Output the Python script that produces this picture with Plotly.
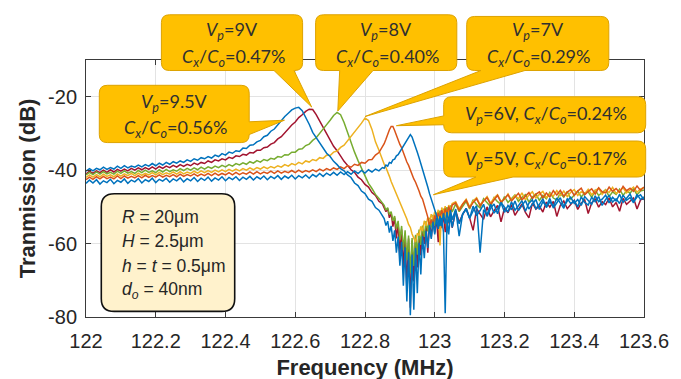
import plotly.graph_objects as go

# ---------------- data ----------------
FREQ_A = [122.00, 122.01, 122.02, 122.03, 122.04, 122.05, 122.06, 122.07, 122.08, 122.09,
          122.10, 122.11, 122.12, 122.13, 122.14, 122.15, 122.16, 122.17, 122.18, 122.19,
          122.20, 122.21, 122.22, 122.23, 122.24, 122.25, 122.26, 122.27, 122.28, 122.29,
          122.30, 122.31, 122.32, 122.33, 122.34, 122.35, 122.36, 122.37, 122.38, 122.39,
          122.40, 122.41, 122.42, 122.43, 122.44, 122.45, 122.46, 122.47, 122.48, 122.49,
          122.50, 122.51, 122.52, 122.53, 122.54, 122.55, 122.56, 122.57, 122.58, 122.59,
          122.60, 122.61, 122.62, 122.63, 122.64, 122.65, 122.66, 122.67, 122.68, 122.69,
          122.70, 122.71, 122.72, 122.73, 122.74, 122.75, 122.76, 122.77, 122.78, 122.79,
          122.80, 122.81, 122.82, 122.83, 122.84, 122.85]
FREQ_B = [122.855, 122.860, 122.865, 122.870, 122.875, 122.880, 122.885, 122.890, 122.895, 122.900,
          122.905, 122.910, 122.915, 122.920, 122.925, 122.930, 122.935, 122.940, 122.945, 122.950,
          122.955, 122.960, 122.965, 122.970, 122.975, 122.980, 122.985, 122.990, 122.995, 123.000,
          123.005, 123.010, 123.015, 123.020, 123.025, 123.030, 123.035, 123.040, 123.045, 123.050]
FREQ_C = [123.06, 123.07, 123.08, 123.09, 123.10, 123.11, 123.12, 123.13, 123.14, 123.15,
          123.16, 123.17, 123.18, 123.19, 123.20, 123.21, 123.22, 123.23, 123.24, 123.25,
          123.26, 123.27, 123.28, 123.29, 123.30, 123.31, 123.32, 123.33, 123.34, 123.35,
          123.36, 123.37, 123.38, 123.39, 123.40, 123.41, 123.42, 123.43, 123.44, 123.45,
          123.46, 123.47, 123.48, 123.49, 123.50, 123.51, 123.52, 123.53, 123.54, 123.55,
          123.56, 123.57, 123.58, 123.59, 123.60]

# Vp = 9.5 V (blue)
VP95_A = [-40.3,-39.6,-40.2,-39.5,-39.9,-39.2,-39.8,-39.3,-39.7,-38.9,
          -39.5,-38.8,-39.4,-38.9,-39.2,-38.6,-39.1,-38.5,-38.9,-38.2,
          -38.8,-38.1,-38.6,-37.9,-38.4,-37.7,-38.1,-37.5,-37.9,-37.2,
          -37.6,-36.9,-37.3,-36.6,-36.9,-36.3,-36.7,-35.9,-36.3,-35.5,
          -35.9,-35.1,-35.4,-34.7,-34.9,-34.0,-34.1,-33.2,-33.1,-32.3,
          -31.9,-30.9,-30.5,-29.4,-28.8,-27.6,-26.6,-25.4,-24.5,-23.6,
          -23.1,-22.9,-23.8,-25.6,-27.5,-29.7,-31.1,-32.8,-34.0,-35.4,
          -36.3,-37.6,-38.5,-39.6,-40.2,-41.3,-42.0,-43.5,-44.2,-45.7,
          -46.4,-47.9,-48.5,-50.2,-50.9,-52.6]
VP95_B = [-53.2,-55.1,-53.9,-57.0,-55.2,-59.3,-56.4,-62.5,-58.1,-66.0,
          -59.5,-71.5,-61.0,-75.8,-62.4,-79.5,-63.0,-78.0,-61.2,-73.5,
          -59.8,-68.4,-58.0,-64.0,-56.5,-61.2,-55.0,-58.7,-54.0,-57.5,
          -53.1,-56.0,-52.5,-55.3,-51.8,-54.6,-51.4,-54.2,-50.9,-53.5]
VP95_C = [-50.6,-58.0,-51.9,-50.7,-53.1,-49.8,-52.4,-51.0,-49.3,-52.6,
          -50.4,-49.2,-51.9,-48.8,-50.1,-51.4,-48.6,-50.9,-49.7,-48.3,
          -51.2,-49.0,-48.1,-50.5,-49.3,-47.8,-50.2,-48.6,-49.9,-47.6,
          -48.9,-50.4,-47.7,-49.1,-48.3,-50.0,-47.3,-48.8,-49.5,-47.4,
          -48.6,-47.2,-49.6,-48.0,-46.9,-48.7,-47.8,-49.1,-46.8,-48.2,
          -47.5,-48.9,-46.6,-48.0,-47.3]

# Vp = 9 V (red)
VP9_A = [-41.0,-40.3,-40.9,-40.2,-40.7,-40.0,-40.6,-39.9,-40.5,-39.8,
         -40.3,-39.7,-40.2,-39.5,-40.0,-39.4,-39.9,-39.3,-39.8,-39.1,
         -39.7,-39.0,-39.5,-38.9,-39.3,-38.7,-39.2,-38.5,-39.0,-38.4,
         -38.8,-38.1,-38.5,-37.9,-38.2,-37.5,-37.9,-37.2,-37.5,-36.9,
         -37.2,-36.5,-36.8,-36.1,-36.3,-35.7,-35.9,-35.2,-35.3,-34.6,
         -34.6,-33.9,-33.7,-32.9,-32.5,-31.5,-30.9,-29.8,-28.9,-27.7,
         -26.9,-25.7,-24.9,-24.0,-23.4,-23.5,-24.9,-26.6,-28.4,-30.3,
         -31.8,-33.5,-34.7,-36.2,-37.6,-38.7,-39.9,-40.6,-41.9,-42.6,
         -43.9,-44.6,-46.1,-46.9,-48.5,-49.2]
VP9_B = [-50.1,-51.3,-50.5,-53.0,-51.6,-55.4,-53.0,-58.6,-54.7,-62.8,
         -56.2,-67.0,-57.5,-72.4,-58.6,-77.5,-59.2,-70.3,-58.0,-66.5,
         -56.8,-63.2,-55.9,-60.1,-55.0,-62.5,-54.2,-58.3,-53.6,-57.0,
         -53.0,-59.6,-52.4,-55.8,-52.0,-56.9,-51.6,-54.5,-51.2,-55.7]
VP9_C = [-51.0,-54.2,-52.1,-50.4,-53.0,-56.4,-50.5,-51.9,-53.4,-50.0,
         -52.7,-51.1,-49.6,-54.1,-50.3,-51.6,-49.4,-52.3,-50.8,-49.2,
         -51.5,-53.0,-49.0,-50.6,-49.8,-51.4,-48.7,-50.1,-48.5,-52.6,
         -49.6,-48.4,-50.5,-49.2,-48.2,-50.7,-49.0,-48.1,-51.8,-48.9,
         -47.9,-50.1,-48.6,-49.4,-47.6,-50.0,-48.8,-51.2,-47.7,-49.3,
         -48.4,-47.6,-50.6,-48.1,-47.8]

# Vp = 8 V (green)
VP8_A = [-41.3,-40.6,-41.2,-40.5,-41.1,-40.4,-41.0,-40.6,-41.1,-40.3,
         -40.9,-40.2,-40.8,-40.4,-40.9,-40.1,-40.7,-40.0,-40.6,-40.2,
         -40.7,-39.9,-40.5,-39.8,-40.4,-39.9,-40.3,-39.6,-40.1,-39.5,
         -40.0,-39.4,-39.9,-39.2,-39.7,-39.1,-39.5,-38.9,-39.3,-38.7,
         -39.1,-38.5,-38.9,-38.2,-38.6,-38.0,-38.4,-37.7,-38.1,-37.4,
         -37.8,-37.1,-37.4,-36.8,-37.0,-36.3,-36.5,-35.8,-35.9,-35.1,
         -35.1,-34.3,-34.2,-33.3,-32.9,-31.9,-31.2,-29.9,-28.9,-27.6,
         -26.4,-25.1,-24.3,-24.9,-27.0,-29.8,-32.4,-35.1,-37.4,-39.6,
         -41.5,-43.6,-45.0,-46.6,-47.7,-49.1]
VP8_B = [-49.6,-50.9,-50.2,-52.1,-51.3,-53.8,-52.5,-56.0,-53.8,-58.9,
         -55.2,-61.7,-56.4,-64.5,-57.8,-68.0,-58.5,-66.1,-57.6,-63.0,
         -56.2,-60.4,-55.1,-58.2,-53.9,-56.7,-53.0,-55.6,-52.2,-54.9,
         -51.6,-54.0,-51.0,-53.2,-50.5,-52.6,-50.1,-52.0,-49.6,-51.4]
VP8_C = [-49.2,-51.3,-49.8,-48.5,-50.6,-48.1,-49.4,-50.3,-47.8,-48.9,
         -49.9,-47.5,-48.6,-49.3,-47.2,-48.8,-47.9,-46.8,-48.5,-47.4,
         -46.7,-48.7,-47.3,-46.5,-48.2,-46.9,-47.8,-46.1,-47.6,-48.1,
         -46.3,-47.4,-45.8,-47.9,-46.8,-45.7,-47.3,-46.2,-45.9,-47.4,
         -45.5,-46.9,-46.1,-45.3,-47.2,-45.9,-46.6,-45.2,-46.9,-45.6,
         -46.3,-45.1,-46.7,-45.7,-45.4]

# Vp = 7 V (yellow)
VP7_A = [-42.0,-41.3,-41.9,-41.2,-41.8,-41.1,-41.7,-41.3,-41.8,-41.0,
         -41.6,-41.0,-41.5,-40.9,-41.5,-40.8,-41.4,-40.9,-41.3,-40.7,
         -41.3,-40.6,-41.2,-40.7,-41.1,-40.5,-41.1,-40.4,-41.0,-40.5,
         -40.9,-40.3,-40.8,-40.2,-40.7,-40.1,-40.6,-40.0,-40.5,-39.9,
         -40.4,-39.8,-40.3,-39.7,-40.2,-39.6,-40.0,-39.4,-39.9,-39.3,
         -39.7,-39.1,-39.6,-39.0,-39.4,-38.8,-39.2,-38.5,-38.9,-38.2,
         -38.6,-37.9,-38.3,-37.5,-37.8,-37.1,-37.4,-36.6,-36.8,-35.9,
         -36.0,-35.1,-34.8,-33.8,-33.2,-32.0,-31.1,-29.6,-28.6,-27.2,
         -25.8,-26.5,-28.9,-32.3,-34.6,-37.3]
VP7_B = [-38.4,-39.3,-40.8,-41.7,-43.1,-44.2,-45.5,-46.4,-47.8,-48.6,
         -50.1,-50.9,-52.4,-53.3,-54.8,-55.6,-57.4,-58.3,-59.6,-57.2,
         -57.8,-55.3,-56.6,-53.8,-55.2,-52.9,-54.1,-52.0,-53.4,-51.3,
         -52.8,-50.8,-60.5,-50.2,-51.7,-49.8,-57.2,-49.5,-50.9,-49.1]
VP7_C = [-48.6,-50.5,-49.1,-47.9,-50.0,-48.4,-47.5,-49.4,-48.3,-47.2,
         -49.0,-47.6,-46.7,-48.5,-47.9,-46.5,-48.2,-46.9,-47.8,-46.2,
         -48.1,-46.8,-45.9,-47.6,-46.6,-45.8,-47.5,-46.4,-47.1,-45.6,
         -46.9,-45.7,-47.2,-46.0,-45.3,-46.9,-45.9,-46.5,-45.2,-46.7,
         -45.6,-44.9,-46.6,-45.4,-46.1,-44.7,-46.4,-45.5,-44.8,-46.2,
         -45.3,-44.6,-46.0,-45.1,-44.8]

# Vp = 6 V (orange)
VP6_A = [-42.6,-41.9,-42.5,-41.8,-42.4,-41.7,-42.3,-41.9,-42.4,-41.6,
         -42.3,-41.6,-42.2,-41.7,-42.1,-41.5,-42.1,-41.4,-42.0,-41.5,
         -41.9,-41.3,-41.9,-41.4,-41.8,-41.2,-41.8,-41.1,-41.7,-41.2,
         -41.6,-41.0,-41.6,-41.1,-41.5,-40.9,-41.5,-40.8,-41.4,-40.9,
         -41.3,-40.7,-41.3,-40.6,-41.2,-40.7,-41.1,-40.5,-41.1,-40.4,
         -41.0,-40.5,-40.9,-40.3,-40.9,-40.2,-40.8,-40.3,-40.7,-40.1,
         -40.7,-40.0,-40.6,-40.1,-40.5,-39.9,-40.4,-39.7,-40.2,-39.6,
         -40.0,-39.4,-39.8,-39.1,-39.6,-38.8,-39.2,-38.4,-38.7,-37.9,
         -38.1,-37.2,-37.1,-35.9,-35.2,-33.8]
VP6_B = [-32.8,-31.6,-30.2,-29.0,-28.1,-28.1,-29.2,-30.6,-31.7,-33.0,
         -33.9,-35.4,-36.3,-37.8,-38.7,-40.1,-40.9,-42.4,-43.3,-44.8,
         -45.7,-47.1,-47.9,-49.5,-50.9,-52.8,-55.2,-53.4,-55.0,-52.3,
         -53.9,-51.6,-53.0,-50.9,-52.6,-50.4,-52.1,-49.9,-51.5,-49.5]
VP6_C = [-48.9,-51.0,-49.3,-48.2,-50.3,-48.8,-47.8,-49.7,-48.4,-47.5,
         -49.3,-48.0,-46.9,-48.8,-47.6,-46.7,-48.4,-47.2,-46.3,-48.1,
         -47.0,-46.1,-47.8,-46.6,-45.9,-47.6,-46.2,-47.3,-45.6,-46.8,
         -45.5,-47.1,-46.0,-45.3,-46.9,-45.7,-44.9,-46.7,-45.8,-45.1,
         -46.5,-44.8,-45.9,-46.2,-44.6,-45.8,-45.0,-46.1,-44.4,-45.6,
         -44.9,-45.8,-44.3,-45.5,-44.6]

# Vp = 5 V (blue)
VP5_A = [-43.6,-42.7,-43.5,-42.6,-43.8,-42.9,-43.4,-42.5,-43.7,-42.8,
         -43.3,-42.4,-43.6,-42.7,-43.2,-42.3,-43.5,-42.6,-43.1,-42.2,
         -43.4,-42.5,-43.0,-42.2,-43.3,-42.4,-42.9,-42.1,-43.2,-42.3,
         -42.9,-42.0,-43.1,-42.2,-42.8,-41.9,-43.0,-42.1,-42.7,-41.8,
         -42.9,-42.0,-42.6,-41.8,-42.8,-41.9,-42.5,-41.7,-42.7,-41.8,
         -42.4,-41.6,-42.6,-41.7,-42.3,-41.5,-42.5,-41.6,-42.2,-41.4,
         -42.4,-41.5,-42.1,-41.3,-42.2,-41.2,-41.8,-40.9,-41.7,-40.8,
         -41.4,-40.6,-41.4,-40.5,-41.2,-40.4,-41.1,-40.2,-40.9,-40.1,
         -40.8,-39.9,-40.5,-39.7,-40.2,-39.3]
VP5_B = [-39.5,-38.6,-38.9,-37.9,-38.1,-37.2,-37.0,-36.1,-35.8,-35.0,
         -34.2,-33.3,-32.4,-31.5,-30.7,-30.3,-31.0,-32.2,-33.6,-35.1,
         -36.6,-38.1,-39.8,-41.3,-43.0,-44.6,-46.4,-48.0,-49.7,-51.1,
         -52.6,-53.8,-55.2,-53.0,-56.9,-79.0,-53.4,-57.5,-52.1,-55.6]
VP5_C = [-51.2,-54.6,-52.0,-50.4,-53.1,-51.1,-49.7,-62.5,-50.8,-52.2,
         -49.3,-51.7,-50.5,-48.9,-51.5,-49.6,-50.8,-48.4,-51.0,-49.5,
         -48.3,-50.6,-49.2,-48.0,-50.7,-48.6,-49.8,-47.7,-50.3,-48.9,
         -47.5,-49.9,-48.4,-47.4,-49.1,-48.0,-49.6,-47.2,-48.3,-49.3,
         -47.0,-48.6,-47.9,-46.8,-48.9,-47.4,-48.4,-46.6,-48.8,-47.5,
         -46.5,-48.6,-47.3,-46.7,-48.1]

X_TICKS = [122.0, 122.2, 122.4, 122.6, 122.8, 123.0, 123.2, 123.4, 123.6]
X_TICK_TEXT = ["122", "122.2", "122.4", "122.6", "122.8", "123", "123.2", "123.4", "123.6"]
Y_TICKS = [-80, -60, -40, -20]
Y_TICK_TEXT = ["-80", "-60", "-40", "-20"]

FREQ = FREQ_A + FREQ_B + FREQ_C
SERIES = [
    ("9 V", VP9_A + VP9_B + VP9_C, "#A2142F"),
    ("8 V", VP8_A + VP8_B + VP8_C, "#77AC30"),
    ("7 V", VP7_A + VP7_B + VP7_C, "#EDB120"),
    ("6 V", VP6_A + VP6_B + VP6_C, "#D95319"),
    ("9.5 V", VP95_A + VP95_B + VP95_C, "#0072BD"),
    ("5 V", VP5_A + VP5_B + VP5_C, "#0072BD"),
]
for name, vals, _ in SERIES:
    assert len(vals) == len(FREQ), (name, len(vals), len(FREQ))

# ---------------- layout geometry ----------------
W, H = 681, 379
ML, MR, MT, MB = 78, 45, 52, 65
PW, PH = W - ML - MR, H - MT - MB
XR = [122.0, 123.6]
YR = [-80, -10]


def P(px, py):
    return f"{(px - ML) / PW:.5f},{(MT + PH - py) / PH:.5f}"


def data_px(f, db):
    return (ML + (f - XR[0]) / (XR[1] - XR[0]) * PW,
            MT + PH - (db - YR[0]) / (YR[1] - YR[0]) * PH)


def box_path(x0, y0, x1, y1, r, side=None, wa=None, wb=None, tip=None):
    s = [f"M{P(x0 + r, y0)}", f"L{P(x1 - r, y0)}", f"Q{P(x1, y0)} {P(x1, y0 + r)}"]
    if side == "right":
        s += [f"L{P(x1, wa)}", f"L{P(*tip)}", f"L{P(x1, wb)}"]
    s += [f"L{P(x1, y1 - r)}", f"Q{P(x1, y1)} {P(x1 - r, y1)}"]
    if side == "bottom":
        s += [f"L{P(wb, y1)}", f"L{P(*tip)}", f"L{P(wa, y1)}"]
    s += [f"L{P(x0 + r, y1)}", f"Q{P(x0, y1)} {P(x0, y1 - r)}"]
    if side == "left":
        s += [f"L{P(x0, wb)}", f"L{P(*tip)}", f"L{P(x0, wa)}"]
    s += [f"L{P(x0, y0 + r)}", f"Q{P(x0, y0)} {P(x0 + r, y0)}", "Z"]
    return " ".join(s)


fig = go.Figure()
for name, vals, color in SERIES:
    fig.add_trace(go.Scatter(x=FREQ, y=vals, mode="lines", name=name,
                             line=dict(color=color, width=1.5)))

CALLOUTS = [
    # box px (x0, y0, x1, y1), side, base a, base b, tip (data)
    ((91.3, 77.8, 241.2, 136.2), "right", 115, 128, (122.569, -26.4)),
    ((153.4, 5.9, 294.6, 62.7), "bottom", 266, 286, (122.647, -22.8)),
    ((307.6, 5.9, 448.8, 62.7), "bottom", 331.7, 365, (122.722, -23.9)),
    ((458.7, 7.6, 600.8, 62.7), "bottom", 473, 517, (122.800, -25.4)),
    ((435.7, 89.5, 637.7, 126.2), "left", 109, 118, (122.890, -27.9)),
    ((435.7, 134.6, 637.7, 171.3), "bottom", 468, 505, (122.996, -46.7)),
]
shapes = []
for (x0, y0, x1, y1), side, wa, wb, tip in CALLOUTS:
    shapes.append(dict(type="path", xref="paper", yref="paper", layer="above",
                       path=box_path(x0, y0, x1, y1, 8, side, wa, wb, data_px(*tip)),
                       fillcolor="#FFC000", line=dict(color="#DDA200", width=1)))
shapes.append(dict(type="path", xref="paper", yref="paper", layer="above",
                   path=box_path(93.3, 188.3, 226.7, 308.3, 13),
                   fillcolor="#FFF2CC", line=dict(color="#111111", width=1.6)))

CALLOUT_FONT = dict(family="Lato, Carlito, Calibri, sans-serif", size=18, color="#303030")
VP = "<i>V</i><sub><i>p</i></sub>"
CXCO = "<i>C</i><sub><i>x</i></sub>/<i>C</i><sub><i>o</i></sub>"
LABELS = [
    (166, 95, f"{VP}=9.5V"), (167, 121.5, f"{CXCO}=0.56%"),
    (224, 21.5, f"{VP}=9V"), (225, 49, f"{CXCO}=0.47%"),
    (378, 21.5, f"{VP}=8V"), (379, 49, f"{CXCO}=0.40%"),
    (530, 21.5, f"{VP}=7V"), (530, 49.5, f"{CXCO}=0.29%"),
    (538, 108, f"{VP}=6V, {CXCO}=0.24%"),
    (538, 153, f"{VP}=5V, {CXCO}=0.17%"),
]
annotations = []
for px, py, txt in LABELS:
    annotations.append(dict(xref="paper", yref="paper", x=(px - ML) / PW, y=(MT + PH - py) / PH,
                            text=txt, showarrow=False, xanchor="center", yanchor="middle",
                            font=CALLOUT_FONT))
INFO = ["<i>R</i> = 20μm", "<i>H</i> = 2.5μm", "<i>h</i> = <i>t</i> = 0.5μm",
        "<i>d</i><sub><i>o</i></sub> = 40nm"]
for i, txt in enumerate(INFO):
    py = 211.7 + 25 * i
    annotations.append(dict(xref="paper", yref="paper", x=(111.7 - ML) / PW, y=(MT + PH - py) / PH,
                            text=txt, showarrow=False, xanchor="left", yanchor="middle",
                            font=dict(family="Liberation Sans, Arial, sans-serif", size=17.5,
                                      color="#262626")))

AX_FONT = dict(family="Liberation Sans, Arial, sans-serif", size=20, color="#262626")
TITLE_FONT = dict(family="Liberation Sans, Arial, sans-serif", size=22, color="#262626",
                  weight="bold")
fig.update_layout(
    width=W, height=H, margin=dict(l=ML, r=MR, t=MT, b=MB),
    paper_bgcolor="white", plot_bgcolor="white", showlegend=False,
    shapes=shapes, annotations=annotations,
    xaxis=dict(range=XR, tickvals=X_TICKS, ticktext=X_TICK_TEXT, tickfont=AX_FONT,
               showgrid=True, gridcolor="#E3E3E3", gridwidth=1, zeroline=False,
               ticks="inside", ticklen=5, tickcolor="#3A3A3A", showline=True,
               linecolor="#3A3A3A", linewidth=1, mirror="ticks", ticklabelstandoff=6,
               title=dict(text="Frequency (MHz)", font=TITLE_FONT, standoff=8)),
    yaxis=dict(range=YR, tickvals=Y_TICKS, ticktext=Y_TICK_TEXT, tickfont=AX_FONT,
               showgrid=True, gridcolor="#E3E3E3", gridwidth=1, zeroline=False,
               ticks="inside", ticklen=5, tickcolor="#3A3A3A", showline=True,
               linecolor="#3A3A3A", linewidth=1, mirror="ticks", ticklabelstandoff=4,
               title=dict(text="Tranmission (dB)", font=TITLE_FONT, standoff=6)),
)

fig.write_html("out.html")
